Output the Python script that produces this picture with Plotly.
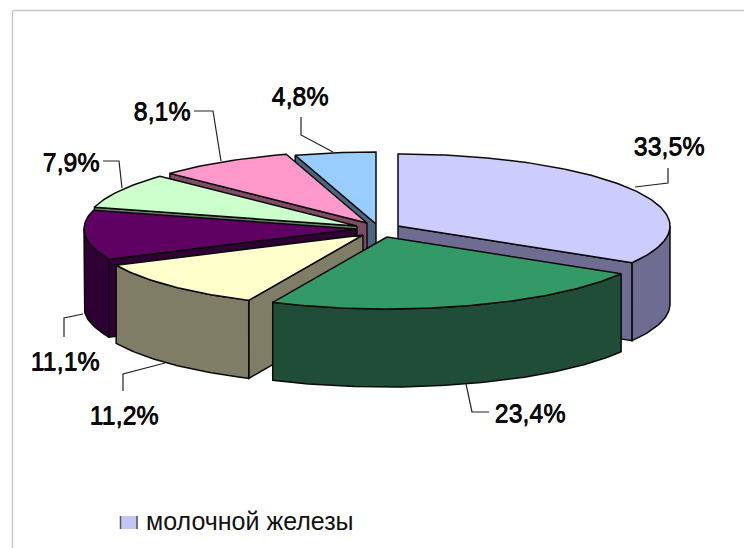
import math
import plotly.graph_objects as go

# --- data ---
shares = [33.5, 23.4, 11.2, 11.1, 7.9, 8.1, 4.8]
labels = ["33,5%", "23,4%", "11,2%", "11,1%", "7,9%", "8,1%", "4,8%"]
legend_name = "молочной железы"

# --- styles ---
top_colors = ["#ccccff", "#339966", "#ffffcc", "#5f0063", "#ccffcc", "#ff99cc", "#99ccff"]
side_colors = ["#6f6c91", "#1f4d38", "#7f7d66", "#2e0033", "#667f66", "#7f4c66", "#4c667f"]
text_weight = "0.5px 0 0 #0a0a0a, 0 0.3px 0 #0a0a0a"

# --- layout of the projected pie (page-pixel scale) ---
RX, RY, DEPTH = 272, 72, 78
apex = [(398, 226), (387, 237), (363, 235), (356, 229), (357, 226), (367, 223), (376, 224)]
draw_order = [6, 5, 4, 3, 0, 2, 1]
label_pos = [(669, 149), (530, 416), (124, 418), (65, 364), (71, 165), (162, 114), (300, 99)]
leaders = [
    [(635, 187), (668, 183), (668, 168)],
    [(466, 384), (472, 412), (489, 412)],
    [(165, 363), (123, 374), (123, 391)],
    [(83, 314), (64, 318), (64, 337)],
    [(122, 188), (119, 161), (103, 161)],
    [(221, 161), (213, 111), (194, 111)],
    [(333, 152), (301, 135), (301, 117)],
]


def rim(i, deg, drop=0):
    ang = math.radians(deg)
    return apex[i][0] + RX * math.sin(ang), apex[i][1] - RY * math.cos(ang) + drop


def arc(i, a, b, drop=0):
    n = max(2, int(abs(b - a)) + 1)
    return [rim(i, a + (b - a) * k / (n - 1), drop) for k in range(n)]


def poly(points, fill, width=1.5):
    xs = [p[0] for p in points] + [points[0][0]]
    ys = [p[1] for p in points] + [points[0][1]]
    return go.Scatter(x=xs, y=ys, mode="lines", fill="toself", fillcolor=fill,
                      line=dict(color="#0a0a0a", width=width), hoverinfo="skip",
                      showlegend=False)


total = sum(shares)
bounds = [0.0]
for s in shares:
    bounds.append(bounds[-1] + s / total * 360)

fig = go.Figure()
for i in draw_order:
    a, b = bounds[i], bounds[i + 1]
    ax, ay = apex[i]
    side = side_colors[i]
    # radial walls that face the viewer
    for deg, normal in ((a, a - 90), (b, b + 90)):
        if math.cos(math.radians(normal)) < -1e-6:
            px, py = rim(i, deg)
            fig.add_trace(poly([(ax, ay), (px, py), (px, py + DEPTH), (ax, ay + DEPTH)], side))
    # curved outer wall, only the front half is visible
    lo, hi = max(a, 90), min(b, 270)
    if hi > lo:
        fig.add_trace(poly(arc(i, lo, hi) + arc(i, hi, lo, DEPTH), side))
    # top face
    fig.add_trace(poly([(ax, ay)] + arc(i, a, b), top_colors[i]))

# leader lines
for pts in leaders:
    fig.add_trace(go.Scatter(x=[p[0] for p in pts], y=[p[1] for p in pts], mode="lines",
                             line=dict(color="#222222", width=1.2), hoverinfo="skip",
                             showlegend=False))

# data labels
fig.add_trace(go.Scatter(x=[p[0] for p in label_pos], y=[p[1] for p in label_pos], mode="text",
                         text=labels, textposition="middle center",
                         textfont=dict(family="Liberation Sans", size=25, color="#0a0a0a",
                                       shadow=text_weight),
                         hoverinfo="skip", showlegend=False))

# legend entry
fig.add_trace(poly([(120, 516), (138, 516), (138, 529), (120, 529)], "#c4c6f2", width=0))
for x in (120.5, 137):
    fig.add_trace(go.Scatter(x=[x, x], y=[516, 529], mode="lines",
                             line=dict(color="#555566", width=1.5), hoverinfo="skip",
                             showlegend=False))
fig.add_trace(go.Scatter(x=[146], y=[524], mode="text", text=[legend_name],
                         textposition="middle right",
                         textfont=dict(family="Liberation Sans", size=25, color="#111111"),
                         hoverinfo="skip", showlegend=False))

# frame
fig.add_shape(type="line", x0=12.5, x1=12.5, y0=10.5, y1=548, line=dict(color="#c8c8c8", width=1.5), layer="below")
fig.add_shape(type="line", x0=12.5, x1=744, y0=10.5, y1=10.5, line=dict(color="#c8c8c8", width=1.5), layer="below")

fig.update_layout(
    width=744, height=548, margin=dict(l=0, r=0, t=0, b=0),
    paper_bgcolor="#ffffff", plot_bgcolor="#ffffff",
    xaxis=dict(range=[0, 744], visible=False, fixedrange=True),
    yaxis=dict(range=[548, 0], visible=False, fixedrange=True),
    showlegend=False,
)

fig.write_html("out.html", config={"displayModeBar": False},
               post_script="document.body.style.margin='0';document.body.style.overflow='hidden';")
